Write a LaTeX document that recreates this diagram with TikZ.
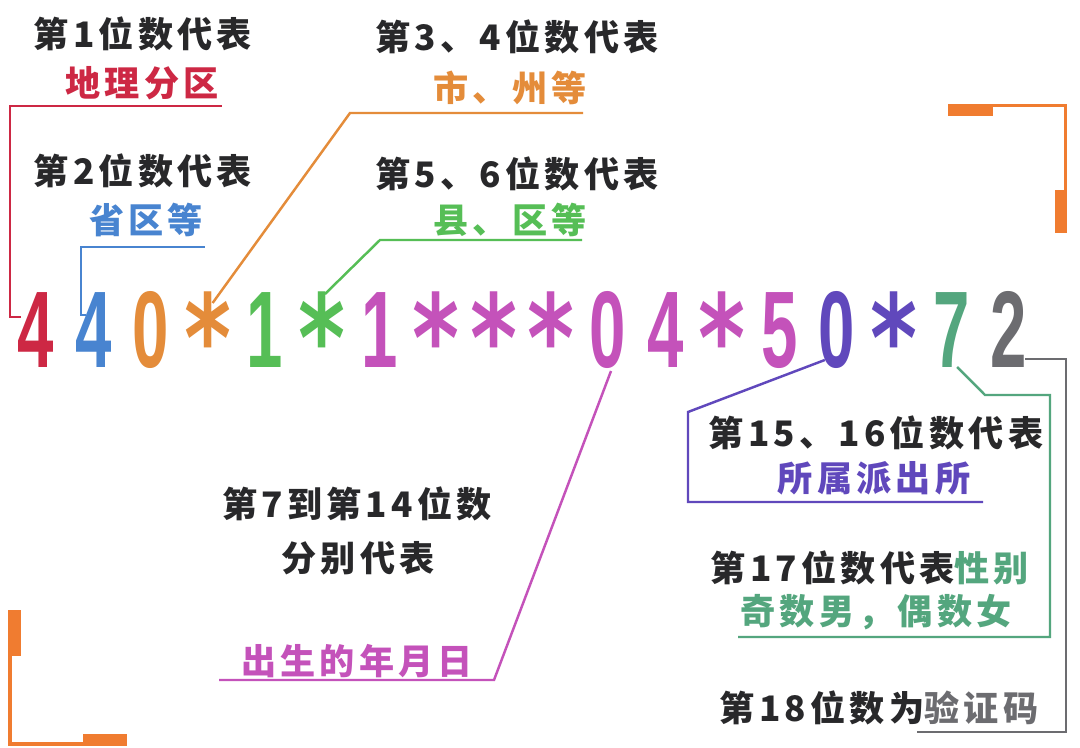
\documentclass[tikz,border=0pt]{standalone}
\usepackage{fontspec}
\newfontfamily\cjk{Noto Sans CJK SC}[LetterSpace=12]
\newfontfamily\numfont{Liberation Sans}
\newfontfamily\starfont{DejaVu Sans}
\usetikzlibrary{calc}
\definecolor{ink}{RGB}{40,40,42}
\definecolor{cred}{RGB}{205,40,68}
\definecolor{cblue}{RGB}{72,132,208}
\definecolor{corange}{RGB}{228,140,58}
\definecolor{cgreen}{RGB}{86,190,86}
\definecolor{cmag}{RGB}{196,82,186}
\definecolor{cpurp}{RGB}{96,72,188}
\definecolor{cteal}{RGB}{84,166,126}
\definecolor{cgray}{RGB}{108,108,112}
\definecolor{cmark}{RGB}{240,124,48}

\begin{document}
\begin{tikzpicture}[x=0.02cm, y=-0.02cm,
    lbl/.style={font=\cjk\bfseries\fontsize{20}{24}\selectfont, text=ink, inner sep=0pt},
    tag/.style={lbl, text=#1},
    digit/.style={font=\numfont\bfseries\fontsize{62}{70}\selectfont, inner sep=0pt, anchor=base},
    link/.style={line width=1.4pt, line join=miter},
    markbox/.style={fill=cmark}]
        \fill[white] (0,0) rectangle (1080,748);
        \useasboundingbox (0,0) rectangle (1080,748);
        \foreach \ch/\col [count=\i] in {4/cred,4/cblue,0/corange,*/corange,1/cgreen,*/cgreen,1/cmag,*/cmag,*/cmag,*/cmag,0/cmag,4/cmag,*/cmag,5/cmag,0/cpurp,*/cpurp,7/cteal,2/cgray}
            \node[digit, text=\col] (d\i) at ({36+57.2*(\i-1)},367) {\if\ch*\raisebox{-8pt}{\scalebox{0.64}[0.86]{\starfont\bfseries\fontsize{80}{90}\selectfont\ch}}\else\scalebox{0.6}[1]{\ch}\fi};
        \node[lbl] (n1) at (143,34) {第1位数代表};
        \node[tag=cred] (t1) at (142,83) {地理分区};
        \node[lbl] (n2) at (143,171) {第2位数代表};
        \node[tag=cblue] (t2) at (146,220) {省区等};
        \node[lbl] (n3) at (517,37) {第3、4位数代表};
        \node[tag=corange] (t3) at (510,88) {市、州等};
        \node[lbl] (n4) at (517,174) {第5、6位数代表};
        \node[tag=cgreen] (t4) at (510,220) {县、区等};
        \node[lbl] (n5) at (357,504) {第7到第14位数};
        \node[lbl] (n5b) at (358,558) {分别代表};
        \node[tag=cmag] (t5) at (357,661) {出生的年月日};
        \node[lbl] (n6) at (876,433) {第15、16位数代表};
        \node[tag=cpurp] (t6) at (874,478) {所属派出所};
        \node[lbl] (n7) at (870,568) {第17位数代表\textcolor{cteal}{性别}};
        \node[tag=cteal] (t7) at (876,612) {奇数男，偶数女};
        \node[lbl] (n8) at (879,708) {第18位数为\textcolor{cgray}{验证码}};
        \coordinate (u1) at (222,106);
        \coordinate (u2) at (205,247);
        \coordinate (u3) at (583,113);
        \coordinate (u4) at (582,240);
        \coordinate (u5) at (219,680);
        \coordinate (u6) at (983,502);
        \coordinate (u7) at (738,637);
        \coordinate (u8) at (917,732);
        \draw[link, cred] ($(d1.base)+(-15,-50)$) -- (10,317) |- (u1);
        \draw[link, cblue] ($(d2.base)+(-7,-52)$) -- (81,315) |- (u2);
        \draw[link, corange] ($(d4.base)+(5,-64)$) -- (350,113) -- (u3);
        \draw[link, cgreen] ($(d6.base)+(3,-73)$) -- (380,240) -- (u4);
        \draw[link, cmag] ($(d11.base)+(3,4)$) -- (494,680) -- (u5);
        \draw[link, cpurp] ($(d15.base)+(-12,-7)$) -- (688,412) |- (u6);
        \draw[link, cteal] ($(d17.base)+(6,0)$) -- (985,395) -- (1050,395) |- (u7);
        \draw[link, cgray] ($(d18.base)+(17,-8)$) -- (1066,359) |- (u8);
        \draw[cmark, line width=1.8pt] (948,105.5) -- (1065.5,105.5) -- (1065.5,233);
        \fill[markbox] (948,104) rectangle (993,116);
        \fill[markbox] (1055,190) rectangle (1067,233);
        \draw[cmark, line width=1.8pt] (10,610) -- (10,744) -- (127,744);
        \fill[markbox] (8.5,610) rectangle (21,656);
        \fill[markbox] (83,734) rectangle (127,746);
    \end{tikzpicture}
\end{document}
